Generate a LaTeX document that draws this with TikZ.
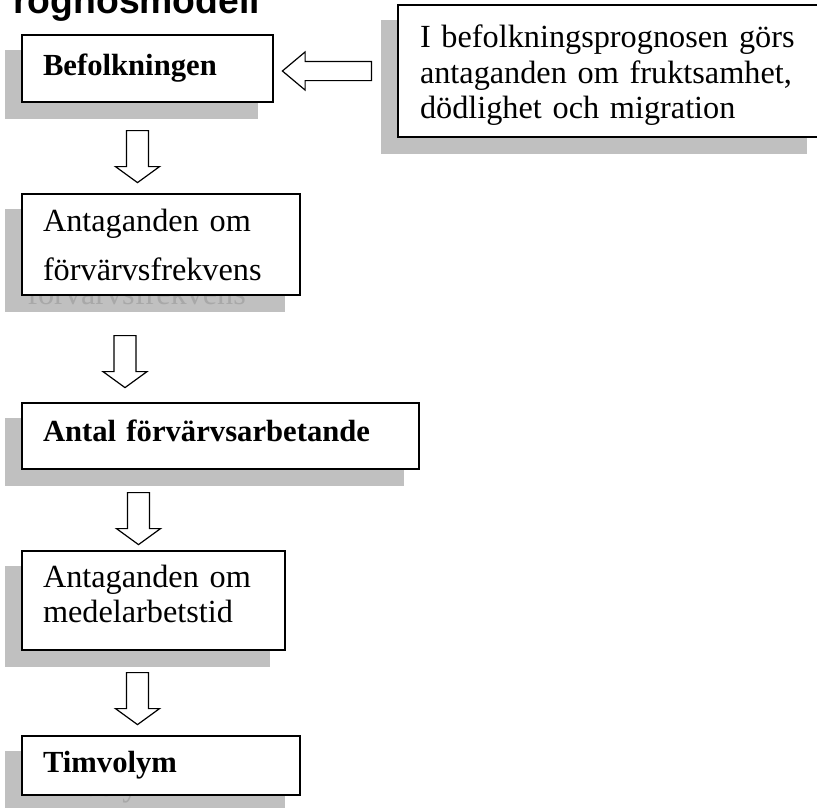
\documentclass[tikz,border=0pt]{standalone}
\usepackage{fontspec}
\setmainfont{Liberation Serif}
\newfontfamily\titlefont{Liberation Sans}
\usetikzlibrary{shapes.arrows,backgrounds}
\definecolor{shadowgray}{RGB}{192,192,192}
\definecolor{ghostgray}{RGB}{168,168,168}
\tikzstyle{box}=[rectangle,draw,line width=1.3pt,fill=white,inner xsep=15.75pt,inner ysep=0pt,align=left,font=\fontsize{24.2}{26.5}\selectfont]
\tikzstyle{boldbox}=[box,font=\fontsize{23}{26.5}\selectfont\bfseries]
\tikzstyle{downarrow}=[single arrow,draw,line width=0.9pt,fill=white,shape border rotate=270,inner sep=7.8pt,single arrow head extend=8.25pt,single arrow tip angle=108,minimum height=39pt,anchor=tail]
\tikzstyle{leftarrow}=[single arrow,draw,line width=0.9pt,fill=white,shape border rotate=180,inner sep=6.75pt,single arrow head extend=7.1pt,single arrow tip angle=80,minimum height=66.75pt,anchor=tail]
\tikzstyle{ghost}=[text=ghostgray,inner sep=0pt,anchor=base west,font=\fontsize{24.2}{26.5}\selectfont]
\tikzstyle{title}=[inner sep=0pt,anchor=base west,font=\titlefont\fontsize{28}{30}\selectfont\bfseries]

\begin{document}
\begin{tikzpicture}[x=0.75pt,y=-0.75pt]
    \useasboundingbox (0,0) rectangle (817,807);
    \clip (0,0) rectangle (817,807);
    % Title, cut off at the top
    \node[title] (titel) at (13,13) {rognosmodell};

    % First we draw the boxes
    \node[boldbox, text width=156.75pt, minimum height=50.25pt] (befolk) at (147.5,68.5) {Befolkningen};
    \node[box, text width=177pt, minimum height=75.75pt, font=\fontsize{24.2}{36.75}\selectfont] (frekvens) at (161,244.5) {Antaganden om\\förvärvsfrekvens};
    \node[boldbox, text width=266.25pt, minimum height=49.5pt, text depth=8pt] (antal) at (220.5,436) {Antal förvärvsarbetande};
    \node[box, text width=165.75pt, minimum height=74.25pt, text depth=36pt, font=\fontsize{24.2}{26.25}\selectfont] (medel) at (153.5,600.5) {Antaganden om\\medelarbetstid};
    \node[boldbox, text width=177pt, minimum height=44.25pt] (timvol) at (161,765.5) {Timvolym};
    \node[box, inner xsep=16.5pt, text width=285pt, minimum height=99pt, text depth=52pt, font=\fontsize{24.2}{26.6}\selectfont] (prognos) at (610,71) {I befolkningsprognosen görs\\antaganden om fruktsamhet,\\dödlighet och migration};

    % Shadows, with the text that shows through them
    \begin{scope}[on background layer]
        \foreach \name in {befolk,frekvens,antal,medel,timvol,prognos}
            \fill[shadowgray] ([shift={(-16,16)}]\name.south west) rectangle ([shift={(-16,16)}]\name.north east);
        \node[ghost] (frekvensghost) at (27,304) {förvärvsfrekvens};
        \node[ghost, font=\fontsize{23}{26.5}\selectfont\bfseries] (timvolghost) at (29,796) {Timvolym};
    \end{scope}

    % Then the arrows between them
    \foreach \pos/\name in {{(137.5,130)/pil1}, {(125,335)/pil2}, {(138.5,492)/pil3}, {(137.5,672)/pil4}}
        \node[downarrow] (\name) at \pos {};
    \node[leftarrow] (pil0) at (372,71) {};
\end{tikzpicture}
\end{document}
